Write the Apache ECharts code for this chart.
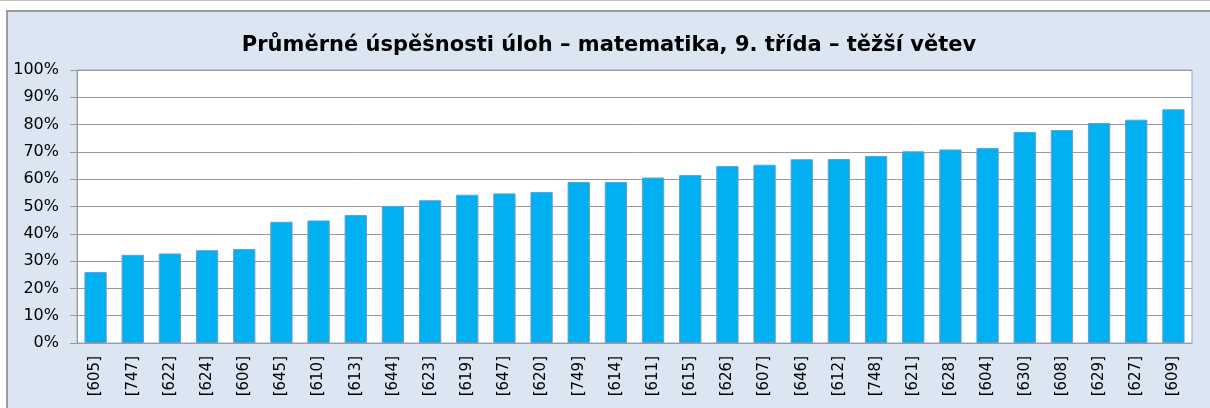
<!DOCTYPE html>
<html>
<head>
<meta charset="utf-8">
<script src="https://cdn.jsdelivr.net/npm/echarts@6/dist/echarts.min.js"></script>
<style>
  html, body {
    margin: 0;
    padding: 0;
    background: #fff;
  }
  .frame {
    position: absolute;
    left: 0;
    top: 0;
    width: 1210px;
    height: 408px;
    border-top: 1px solid #c0c0c0;
    box-sizing: border-box;
  }
  #chart {
    position: absolute;
    left: 6px;
    top: 10px;
    width: 1204px;
    height: 398px;
    background: #dce6f2;
    border-left: 2px solid #9c9c9c;
    border-top: 2px solid #9c9c9c;
    box-sizing: border-box;
  }
</style>
</head>
<body>
<div class="frame"></div>
<div id="chart"></div>
<script>
// úlohy seřazené podle průměrné úspěšnosti
const categories = ["[605]", "[747]", "[622]", "[624]", "[606]", "[645]", "[610]", "[613]", "[644]", "[623]",
  "[619]", "[647]", "[620]", "[749]", "[614]", "[611]", "[615]", "[626]", "[607]", "[646]",
  "[612]", "[748]", "[621]", "[628]", "[604]", "[630]", "[608]", "[629]", "[627]", "[609]"];
const values = [26.0, 32.3, 32.8, 34.0, 34.4, 44.4, 44.9, 46.9, 50.2, 52.3,
  54.3, 54.8, 55.3, 59.0, 59.0, 60.6, 61.5, 64.8, 65.3, 67.3,
  67.4, 68.5, 70.2, 70.9, 71.4, 77.3, 78.0, 80.6, 81.8, 85.6];
const yTicks = [0, 10, 20, 30, 40, 50, 60, 70, 80, 90, 100];
const title = "Průměrné úspěšnosti úloh – matematika, 9. třída – těžší větev";

const myChart = echarts.init(document.getElementById("chart"));

const option = {
  animation: false,
  textStyle: { fontFamily: "DejaVu Sans" },
  title: {
    text: title,
    left: "center",
    top: 18,
    textStyle: {
      fontFamily: "DejaVu Sans",
      fontSize: 21,
      fontWeight: "bold",
      color: "#000",
    },
  },
  grid: {
    left: 69,
    right: 18,
    top: 58,
    bottom: 65,
    show: true,
    backgroundColor: "#fff",
    borderColor: "#8eaad8",
    borderWidth: 1,
  },
  xAxis: {
    type: "category",
    data: categories,
    axisLine: { lineStyle: { color: "#9c9c9c", width: 1 } },
    axisTick: { length: 6, lineStyle: { color: "#9c9c9c" } },
    axisLabel: {
      rotate: 90,
      interval: 0,
      margin: 13,
      fontSize: 15,
      color: "#000",
      fontFamily: "DejaVu Sans",
    },
  },
  yAxis: {
    type: "value",
    min: yTicks[0],
    max: yTicks[yTicks.length - 1],
    interval: 10,
    axisLine: { show: true, lineStyle: { color: "#9c9c9c", width: 1 } },
    axisTick: { show: true, length: 7, lineStyle: { color: "#9c9c9c" } },
    splitLine: { lineStyle: { color: "#999", width: 1 } },
    axisLabel: {
      formatter: "{value}%",
      margin: 18,
      fontSize: 16,
      color: "#000",
      fontFamily: "DejaVu Sans",
    },
  },
  series: [
    {
      type: "bar",
      data: values,
      barCategoryGap: "40%",
      itemStyle: {
        color: "#00b0f0",
        borderColor: "#6b9bd6",
        borderWidth: 1,
      },
    },
  ],
};

myChart.setOption(option);
</script>
</body>
</html>
